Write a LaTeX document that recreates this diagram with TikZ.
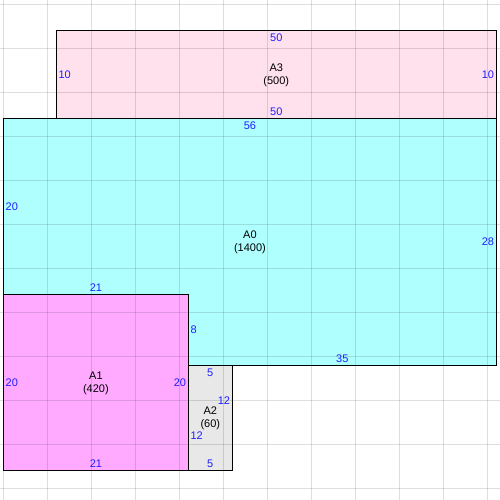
\documentclass[tikz,border=0pt]{standalone}
\usepackage{fontspec}
\setmainfont{Liberation Sans}
\usepackage{xcolor}

\definecolor{rosa}{RGB}{255,225,238}
\definecolor{ciano}{RGB}{175,255,255}
\definecolor{viola}{RGB}{255,170,255}
\definecolor{grigio}{RGB}{232,232,232}
\definecolor{blu}{RGB}{30,30,255}
\definecolor{linea}{RGB}{222,222,222}

\begin{document}
\begin{tikzpicture}[x=8.8pt, y=8.8pt, font=\fontsize{11}{13}\selectfont,
    griglia/.style={linea, line width=1.2pt},
    bordo/.style={black, line width=1pt},
    lato/.style={text=blu, inner sep=2pt},
    area/.style={align=center, inner sep=0pt}]
    \useasboundingbox (-0.398,-3.295) rectangle (56.42,53.52);

    % Regioni
    \fill[rosa] (6,40) rectangle (56,50);
    \fill[ciano] (0,20) -- (0,40) -- (56,40) -- (56,12) -- (21,12) -- (21,20) -- cycle;
    \fill[viola] (0,0) rectangle (21,20);
    \fill[grigio] (21,0) rectangle (26,12);

    % Griglia
    \begin{scope}[blend mode=multiply]
        \foreach \x in {0,5,...,55} {
                \draw[griglia] (\x,-3.295) -- (\x,53.52);
            }
        \foreach \y in {-2,3,...,53} {
                \draw[griglia] (-0.398,\y) -- (56.42,\y);
            }
    \end{scope}

    % Bordi
    \draw[bordo] (6,40) rectangle (56,50);
    \draw[bordo] (0,20) -- (0,40) -- (56,40) -- (56,12) -- (21,12) -- (21,20) -- cycle;
    \draw[bordo] (0,0) rectangle (21,20);
    \draw[bordo] (21,0) rectangle (26,12);

    % A3
    \node[area] (a3) at (31,45) {A3\\(500)};
    \node[lato] (a3n) at (31,49.2) {50};
    \node[lato] (a3s) at (31,40.8) {50};
    \node[lato, anchor=west] (a3w) at (6,45) {10};
    \node[lato, anchor=east] (a3e) at (56,45) {10};

    % A0
    \node[area] (a0) at (28,26) {A0\\(1400)};
    \node[lato] (a0n) at (28,39.2) {56};
    \node[lato, anchor=west] (a0w) at (0,30) {20};
    \node[lato, anchor=east] (a0e) at (56,26) {28};
    \node[lato] (a0s) at (38.5,12.8) {35};
    \node[lato, anchor=west] (a0g) at (21,16) {8};
    \node[lato] (a0h) at (10.5,20.8) {21};

    % A1
    \node[area] (a1) at (10.5,10) {A1\\(420)};
    \node[lato] (a1s) at (10.5,0.8) {21};
    \node[lato, anchor=west] (a1w) at (0,10) {20};
    \node[lato, anchor=east] (a1e) at (21,10) {20};

    % A2
    \node[area] (a2) at (23.5,6) {A2\\(60)};
    \node[lato] (a2n) at (23.5,11.2) {5};
    \node[lato] (a2s) at (23.5,0.8) {5};
    \node[lato, anchor=east] (a2e) at (26,8) {12};
    \node[lato, anchor=west] (a2w) at (21,4) {12};
\end{tikzpicture}
\end{document}
